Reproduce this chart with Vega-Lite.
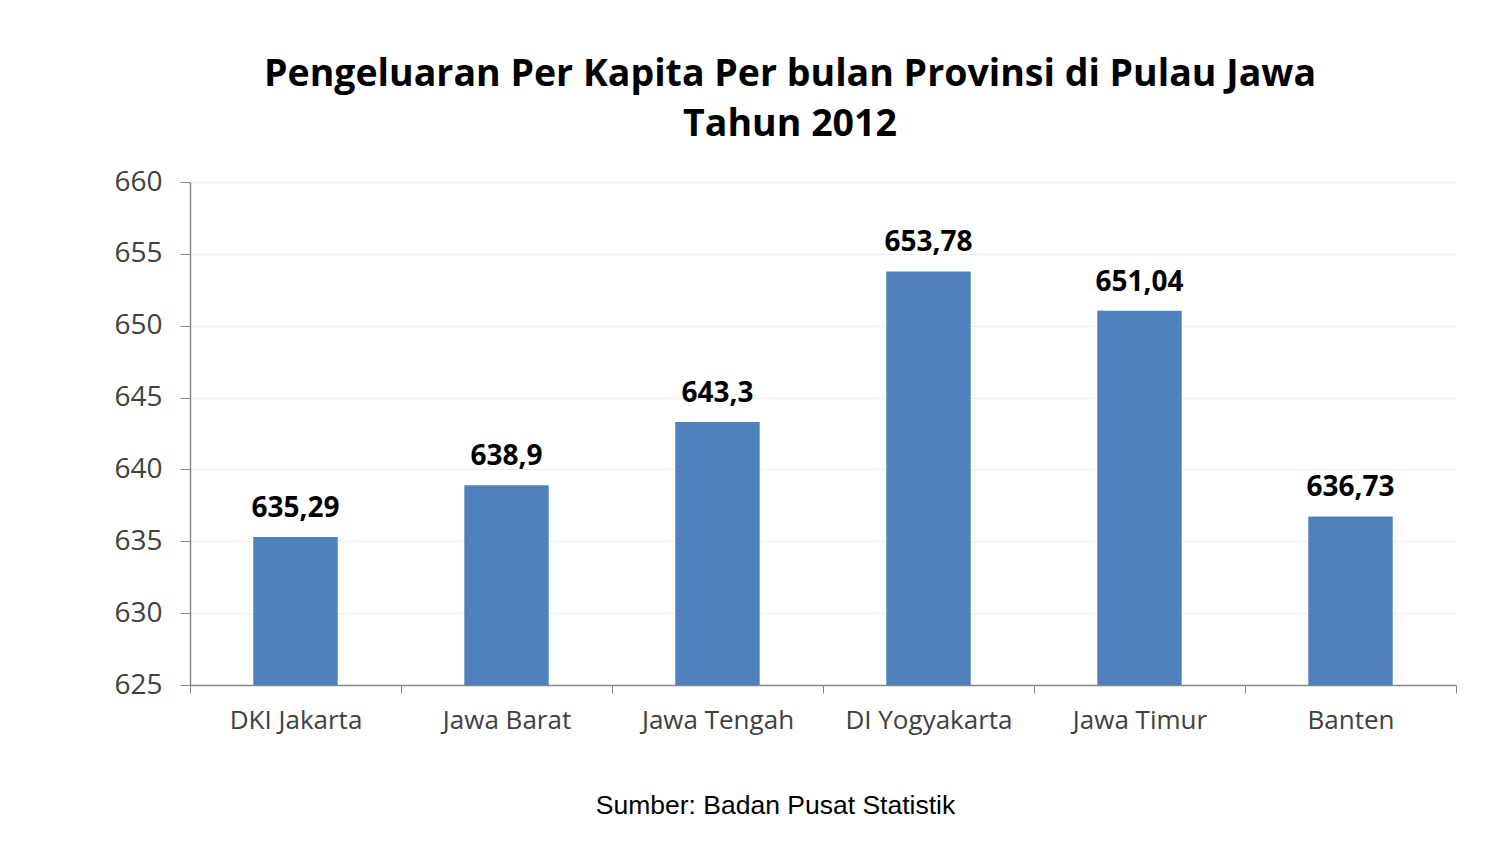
{
  "$schema": "https://vega.github.io/schema/vega-lite/v6.json",
  "width": 1266,
  "height": 503,
  "autosize": {"type": "none"},
  "padding": {"left": 190, "top": 182, "right": 48, "bottom": 178},
  "background": "white",
  "config": {
    "locale": {"number": {"decimal": ",", "thousands": ".", "grouping": [3], "currency": ["Rp", ""]}},
    "view": {"stroke": null},
    "font": "Open Sans"
  },
  "title": {
    "text": ["Pengeluaran Per Kapita Per bulan Provinsi di Pulau Jawa", "Tahun 2012"],
    "font": "Open Sans",
    "fontSize": 37.5,
    "fontWeight": "bold",
    "color": "#000000",
    "lineHeight": 50,
    "anchor": "middle",
    "dx": -33,
    "offset": 25
  },
  "data": {
    "values": [
      {"provinsi": "DKI Jakarta", "nilai": 635.29},
      {"provinsi": "Jawa Barat", "nilai": 638.9},
      {"provinsi": "Jawa Tengah", "nilai": 643.3},
      {"provinsi": "DI Yogyakarta", "nilai": 653.78},
      {"provinsi": "Jawa Timur", "nilai": 651.04},
      {"provinsi": "Banten", "nilai": 636.73}
    ]
  },
  "encoding": {
    "x": {
      "field": "provinsi",
      "type": "nominal",
      "sort": null,
      "scale": {"paddingInner": 0, "paddingOuter": 0},
      "axis": {
        "title": "Sumber: Badan Pusat Statistik",
        "titleFont": "Liberation Sans",
        "titleFontSize": 26.5,
        "titleFontWeight": "normal",
        "titleColor": "#000000",
        "titleX": 585,
        "titleY": 120,
        "titleBaseline": "middle",
        "titleAnchor": "middle",
        "labelAngle": 0,
        "labelFont": "Open Sans",
        "labelFontSize": 26,
        "labelColor": "#404040",
        "labelPadding": 14,
        "ticks": true,
        "tickBand": "extent",
        "tickSize": 8,
        "tickColor": "#868686",
        "domainColor": "#868686",
        "domainWidth": 1.5,
        "grid": false
      }
    },
    "y": {
      "field": "nilai",
      "type": "quantitative",
      "scale": {"domain": [625, 660], "zero": false, "nice": false},
      "axis": {
        "title": null,
        "values": [625, 630, 635, 640, 645, 650, 655, 660],
        "labelFont": "Open Sans",
        "labelFontSize": 28,
        "labelColor": "#404040",
        "labelPadding": 18,
        "tickSize": 10,
        "tickColor": "#868686",
        "domainColor": "#868686",
        "domainWidth": 1.5,
        "gridColor": "#EEEEEE",
        "gridWidth": 1
      }
    }
  },
  "layer": [
    {"mark": {"type": "bar", "color": "#4F81BD", "clip": true, "width": {"band": 0.4}}},
    {
      "mark": {"type": "text", "baseline": "bottom", "dy": -14, "font": "Open Sans", "fontSize": 28, "fontWeight": "bold", "color": "#000000"},
      "encoding": {"text": {"field": "nilai", "type": "quantitative", "format": ".2~f"}}
    }
  ]
}
